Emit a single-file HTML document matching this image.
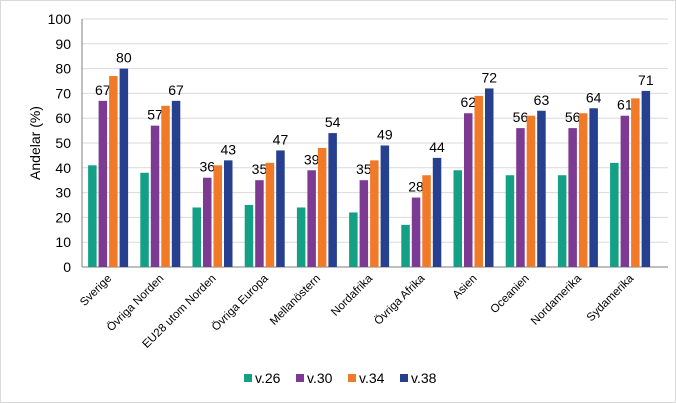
<!DOCTYPE html>
<html><head><meta charset="utf-8"><style>
body{margin:0;background:#fff;}
svg{display:block;font-family:"Liberation Sans",sans-serif;}
</style></head><body>
<svg id="c" width="676" height="403" viewBox="0 0 676 403">
<rect x="0.5" y="0.5" width="675" height="402" fill="#fff" stroke="#d9d9d9"/>
<text transform="translate(40,143) rotate(-90)" text-anchor="middle" font-size="14" fill="#000">Andelar (%)</text>
</svg>
<script>
const categories=["Sverige","Övriga Norden","EU28 utom Norden","Övriga Europa","Mellanöstern","Nordafrika","Övriga Afrika","Asien","Oceanien","Nordamerika","Sydamerika"];
const seriesNames=["v.26","v.30","v.34","v.38"];
const v26=[41,38,24,25,24,22,17,39,37,37,42];
const v30=[67,57,36,35,39,35,28,62,56,56,61];
const v34=[77,65,41,42,48,43,37,69,61,62,68];
const v38=[80,67,43,47,54,49,44,72,63,64,71];
const yTicks=[0,10,20,30,40,50,60,70,80,90,100];
const colors=["#13a085","#7d3a92","#f07a28","#263f8f"];
const labeled=[false,true,false,true];
const series=[v26,v30,v34,v38];
const svg=document.getElementById('c');
const NS="http://www.w3.org/2000/svg";
const L=82,R=668,T=19,B=267,step=52.2;
const y=v=>B-(v/100)*(B-T);
const xc=i=>L+step*i+step/2;
function mk(t,a){const e=document.createElementNS(NS,t);for(const k in a)e.setAttribute(k,a[k]);svg.appendChild(e);return e;}
yTicks.forEach(t=>{
 const g=mk('line',{x1:L,x2:R,y1:y(t),y2:y(t),stroke:t===0?'#7f7f7f':'#d9d9d9','stroke-width':1});
 
 
 const tx=mk('text',{x:L-11,y:y(t)+5,'text-anchor':'end','font-size':14,fill:'#000'});
 tx.textContent=t;
 
 
});
mk('line',{x1:L,x2:L,y1:T,y2:B,stroke:'#7f7f7f'});
const bw=8.5,gap=2;
categories.forEach((c,i)=>{
 series.forEach((s,j)=>{
  const x=xc(i)-(4*bw+3*gap)/2+j*(bw+gap);
  const r=mk('rect',{x:x,y:y(s[i]),width:bw,height:B-y(s[i]),fill:colors[j]});
  
  
  if(labeled[j]){
   const t=mk('text',{x:x+bw/2,y:y(s[i])-6,'text-anchor':'middle','font-size':14,fill:'#000'});
   t.textContent=s[i];
   
   
  }
 });
 const lx=xc(i)+4,ly=B+12;
 const t=mk('text',{x:lx,y:ly,'text-anchor':'end','font-size':11.5,fill:'#000',transform:`rotate(-45 ${lx} ${ly})`});
 t.textContent=c;
 
 
});
const lxs=[244,296,348,400];
seriesNames.forEach((n,j)=>{
 const r=mk('rect',{x:lxs[j],y:374,width:8,height:8,fill:colors[j]});
 
 
 const t=mk('text',{x:lxs[j]+11,y:383,'font-size':14,fill:'#000'});
 t.textContent=n;
 
 
});
</script>
</body></html>
